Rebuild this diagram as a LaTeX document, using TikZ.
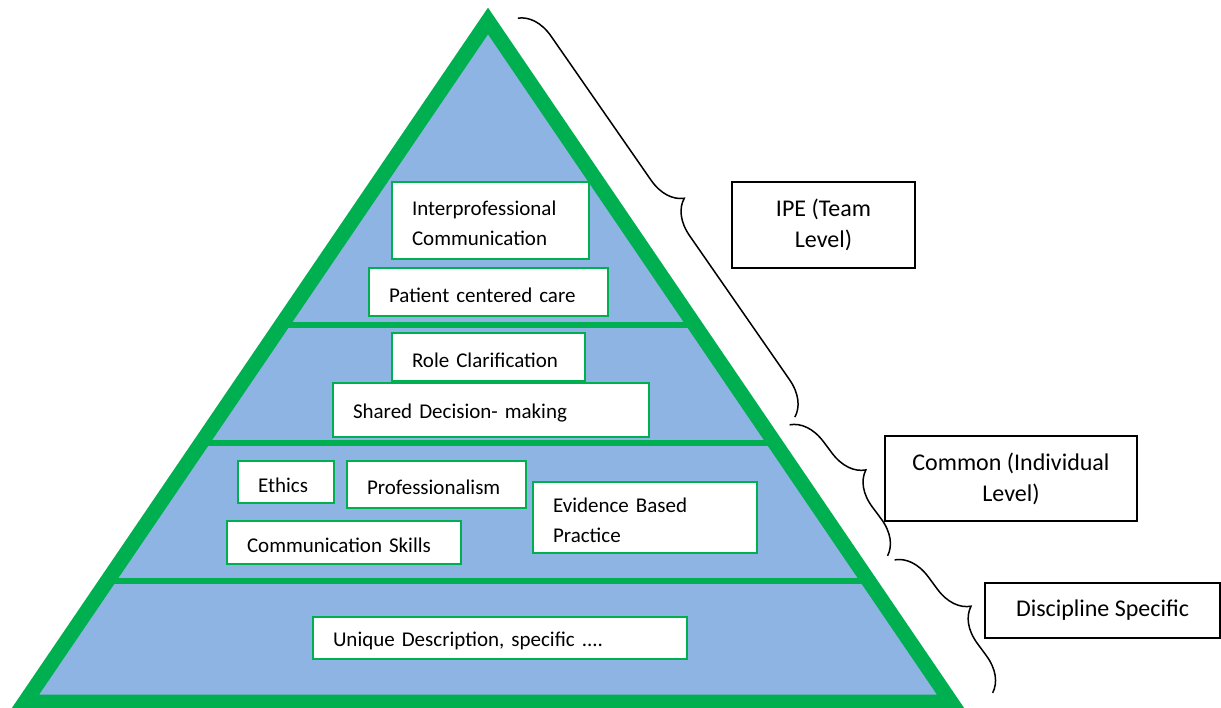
\documentclass[tikz,border=0pt]{standalone}
\usepackage{fontspec}
\setmainfont{Carlito}
\usepackage{tikz}
\usetikzlibrary{decorations.pathreplacing}
\definecolor{pgreen}{HTML}{00B050}
\definecolor{pblue}{HTML}{8EB4E3}

\begin{document}
\begin{tikzpicture}[
    x=1pt, y=-1pt,
    tri/.style={draw=pgreen, fill=pblue, line width=15pt, line join=miter},
    layer/.style={draw=pgreen, line width=6pt},
    topic/.style={rectangle, draw=pgreen, line width=2pt, fill=white, align=left, inner xsep=20pt, inner ysep=0pt, font=\fontsize{21}{30}\selectfont, execute at begin node={\rule{0pt}{21pt}}},
    level/.style={rectangle, draw=black, line width=1.5pt, fill=white, align=center, font=\fontsize{24}{31}\selectfont},
    bracket/.style={draw, line width=1.5pt, decorate, decoration={brace, amplitude=34pt, raise=12pt}}
]
    \useasboundingbox (0,0) rectangle (1221,708);

    % Pyramid
    \coordinate (apex) at (488,21);
    \coordinate (bl) at (25,702);
    \coordinate (br) at (951,702);
    \draw[tri] (apex) -- (bl) -- (br) -- cycle;

    % Layer dividers
    \coordinate (l1a) at (281,325);
    \coordinate (l1b) at (695,325);
    \coordinate (l2a) at (201,443);
    \coordinate (l2b) at (775,443);
    \coordinate (l3a) at (107,581);
    \coordinate (l3b) at (869,581);
    \draw[layer] (l1a) -- (l1b);
    \draw[layer] (l2a) -- (l2b);
    \draw[layer] (l3a) -- (l3b);

    % Team level
    \node[topic, text width=157pt, minimum height=77pt] (ipc) at (490.5,220.5) {Interprofessional\\Communication};
    \node[topic, text width=199pt, minimum height=48pt] (pcc) at (488.5,292) {Patient centered care};

    % Individual level
    \node[topic, text width=153pt, minimum height=48pt] (role) at (488.5,357) {Role Clarification};
    \node[topic, text width=276pt, minimum height=54pt] (sdm) at (491,410) {Shared Decision- making};
    \node[topic, text width=56pt, minimum height=42pt] (ethics) at (286,482) {Ethics};
    \node[topic, text width=139pt, minimum height=47pt] (prof) at (436.5,484.5) {Professionalism};
    \node[topic, text width=194pt, minimum height=43pt] (comm) at (344,542.5) {Communication Skills};
    \node[topic, text width=184pt, minimum height=71pt] (ebp) at (645,517.5) {Evidence Based\\Practice};

    % Discipline level
    \node[topic, text width=334pt, minimum height=42pt] (uniq) at (500,638) {Unique Description, specific ....};

    % Level labels
    \node[level, minimum width=183pt, minimum height=86pt] (ipe) at (823.5,225) {IPE (Team\\Level)};
    \node[level, minimum width=252pt, minimum height=85pt] (common) at (1011,478.5) {Common (Individual\\Level)};
    \node[level, minimum width=235pt, minimum height=55pt] (disc) at (1102.5,610.5) {Discipline Specific};

    % Braces
    \coordinate (ipeTop) at (508,25);
    \coordinate (ipeBot) at (785,424);
    \coordinate (comTop) at (780,432);
    \coordinate (comBot) at (878,563);
    \coordinate (disTop) at (885,567);
    \coordinate (disBot) at (983,700);
    \draw[bracket] (ipeTop) -- (ipeBot);
    \draw[bracket] (comTop) -- (comBot);
    \draw[bracket] (disTop) -- (disBot);
\end{tikzpicture}
\end{document}
